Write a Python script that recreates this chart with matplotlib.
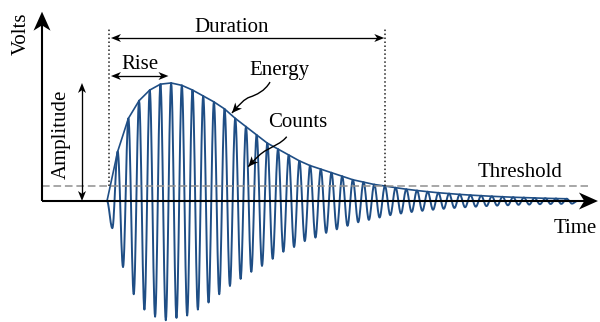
import numpy as np
import matplotlib
matplotlib.use("Agg")
import matplotlib.pyplot as plt
from matplotlib.patches import Polygon, PathPatch
from matplotlib.path import Path
from matplotlib.transforms import IdentityTransform

plt.rcParams['font.family'] = ['Liberation Serif', 'DejaVu Serif']

# acoustic emission burst: one oscillation per time unit, starting at t = 0
# positive peaks at t = 1, 2, 3, ...
peak_v = [0.42, 0.70, 0.85, 0.94, 0.99, 1.00, 0.98, 0.94, 0.89, 0.84,
          0.78, 0.70, 0.63, 0.56, 0.49, 0.44, 0.39, 0.34, 0.30, 0.27,
          0.24, 0.21, 0.18, 0.16, 0.14, 0.127, 0.113, 0.100, 0.089, 0.079,
          0.070, 0.063, 0.056, 0.050, 0.045, 0.040, 0.036, 0.032, 0.029, 0.026,
          0.023, 0.021, 0.019]
# negative peaks (depth) at t = 0.5, 1.5, 2.5, ...
trough_v = [0.23, 0.56, 0.79, 0.92, 0.98, 1.01, 0.99, 0.97, 0.92, 0.86,
            0.79, 0.72, 0.66, 0.60, 0.55, 0.49, 0.43, 0.39, 0.34, 0.31,
            0.27, 0.24, 0.21, 0.18, 0.16, 0.14, 0.12, 0.106, 0.093, 0.083,
            0.074, 0.066, 0.059, 0.053, 0.048, 0.043, 0.039, 0.036, 0.032, 0.030,
            0.027, 0.025, 0.024, 0.022]
t_end = 44.0
threshold = 0.127
rise_end = 5.75

BLUE = '#1f4e85'
FS = 15

# extrema in time order, then half-cosine between neighbours
ext_t, ext_v = [0.0], [0.0]
for k in range(len(trough_v)):
    ext_t.append(k + 0.5)
    ext_v.append(-trough_v[k])
    if k < len(peak_v):
        ext_t.append(k + 1.0)
        ext_v.append(peak_v[k])
ext_t.append(t_end)
ext_v.append(0.0)

s = np.linspace(0, 1, 14)[:-1]
wave_t, wave_v = [], []
for i in range(len(ext_t) - 1):
    ta, tb = ext_t[i], ext_t[i + 1]
    va, vb = ext_v[i], ext_v[i + 1]
    wave_t.extend(ta + (tb - ta) * s)
    wave_v.extend(va + (vb - va) * (1 - np.cos(np.pi * s)) / 2)
wave_t.append(ext_t[-1])
wave_v.append(ext_v[-1])

env_t = [0.0] + [k + 1.0 for k in range(len(peak_v))]
env_v = [0.0] + peak_v

i_max = int(np.argmax(peak_v))
amp = peak_v[i_max]
# duration ends at the last threshold crossing of the envelope
duration_end = next(k + 1.0 for k in range(i_max, len(peak_v)) if peak_v[k] <= threshold)

fig = plt.figure(figsize=(6, 3.22), dpi=100)
ax = fig.add_axes([0, 0, 1, 1])
ax.set_axis_off()
ax.set_xlim(-10.01, 46.12)
ax.set_ylim(-1.025, 1.703)


def head(tip, frm, length, half, notch=0.28):
    # stealth arrowhead drawn in pixels, pointing from frm to tip
    p = ax.transData.transform([tip, frm])
    d = p[0] - p[1]
    d = d / np.hypot(*d)
    n = np.array([-d[1], d[0]])
    base = p[0] - d * length
    pts = [p[0], base + n * half, p[0] - d * length * (1 - notch), base - n * half]
    ax.add_patch(Polygon(pts, closed=True, transform=IdentityTransform(),
                         fc='black', ec='none', clip_on=False, zorder=6))


def arrow(p0, p1, lw, length, half, both=False):
    a = ax.transData.transform(p0)
    b = ax.transData.transform(p1)
    d = (b - a) / np.hypot(*(b - a))
    b2 = b - d * length * 0.6
    a2 = a + d * length * 0.6 if both else a
    ax.plot([a2[0], b2[0]], [a2[1], b2[1]], color='black', lw=lw,
            solid_capstyle='butt', transform=IdentityTransform(), zorder=5)
    head(p1, p0, length, half)
    if both:
        head(p0, p1, length, half)


def curved_arrow(verts):
    codes = [Path.MOVETO] + [Path.CURVE4] * (len(verts) - 1)
    ax.add_patch(PathPatch(Path(verts, codes), fc='none', ec='black', lw=1.0, zorder=5))
    head(verts[-1], verts[-2], 10, 4.5)


# waveform and energy envelope
ax.plot(wave_t, wave_v, color=BLUE, lw=1.4, zorder=2)
ax.plot(env_t, env_v, color=BLUE, lw=1.2, zorder=3)

# threshold
ax.plot([-6.08, 45.0], [threshold, threshold], color='#8f8f8f', lw=1.1,
        dashes=(5, 2.5), zorder=4)

# axes
arrow((-6.08, 0), (45.93, 0), 1.5, 19, 8.5)
arrow((-6.08, 0), (-6.08, 1.604), 1.5, 19, 8.5)

# duration markers
for x in (0.19, duration_end):
    ax.plot([x, x], [threshold, 1.458], color='#222222', lw=1.1,
            ls=(0, (1, 1.6)), zorder=4)
arrow((0.37, 1.381), (duration_end - 0.06, 1.381), 0.95, 10, 4, both=True)
arrow((0.37, 1.059), (rise_end, 1.059), 0.95, 10, 4, both=True)
arrow((-2.34, 0.0), (-2.34, amp), 0.95, 10, 4, both=True)

curved_arrow([(15.25, 1.008), (14.78, 0.932), (13.94, 0.898), (13.38, 0.881),
              (12.82, 0.864), (12.44, 0.822), (11.69, 0.746)])
curved_arrow([(16.81, 0.545), (16.37, 0.492), (15.43, 0.458), (14.94, 0.432),
              (14.40, 0.407), (13.94, 0.364), (13.22, 0.291)])

# labels
ax.text(-8.0, 1.42, 'Volts', rotation=90, ha='center', va='center', fontsize=FS)
ax.text(-4.24, 0.568, 'Amplitude', rotation=90, ha='center', va='center', fontsize=FS)
ax.text(11.65, 1.436, 'Duration', ha='center', va='baseline', fontsize=FS)
ax.text(3.04, 1.116, 'Rise', ha='center', va='baseline', fontsize=FS)
ax.text(16.09, 1.068, 'Energy', ha='center', va='baseline', fontsize=FS)
ax.text(17.82, 0.623, 'Counts', ha='center', va='baseline', fontsize=FS)
ax.text(38.63, 0.203, 'Threshold', ha='center', va='baseline', fontsize=FS)
ax.text(41.82, -0.267, 'Time', ha='left', va='baseline', fontsize=FS)

fig.savefig('out.png', dpi=100)
